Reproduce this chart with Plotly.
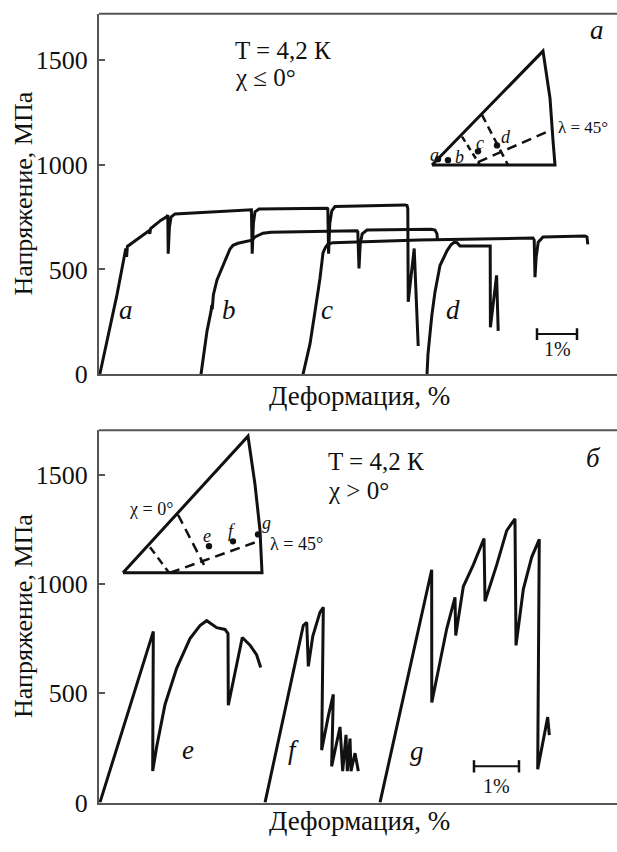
import plotly.graph_objects as go

# ---- stress–strain curves, panel "a" (chi <= 0), strain in %, stress in MPa ----
a_strain = [0.02, 0.25, 0.45, 0.575, 0.65, 0.67, 0.69, 0.71, 1.0, 1.25, 1.27, 1.29, 1.55, 1.7, 1.72,
            1.73, 1.76, 1.8, 1.9, 3.8, 3.81, 3.83, 3.86, 3.9, 4.0, 5.7, 5.72, 5.74, 5.77, 5.82, 5.9,
            7.65, 7.7, 7.72, 7.73, 7.88, 7.96, 7.98]
a_stress = [0, 200, 380, 505, 580, 600, 560, 610, 650, 685, 670, 695, 735, 752, 760,
            575, 700, 750, 765, 785, 785, 575, 720, 775, 788, 792, 790, 575, 720, 780, 800,
            808, 805, 790, 346, 600, 200, 135]

b_strain = [2.55, 2.7, 2.8, 2.82, 2.83, 2.86, 2.95, 3.1, 3.2, 3.275, 3.35, 3.475, 3.825, 3.9, 4.1, 4.3,
            5.72, 6.45, 6.47, 6.5, 6.53, 6.58, 6.7, 8.3, 8.4, 8.45, 8.46]
b_stress = [0, 206, 300, 330, 310, 380, 450, 520, 570, 598, 615, 625, 640, 655, 673, 678,
            682, 685, 680, 505, 620, 670, 688, 692, 688, 670, 645]

c_strain = [5.1, 5.275, 5.4, 5.525, 5.6, 5.66, 5.725, 5.85, 8.0, 10.0, 10.85, 10.88, 10.9, 10.93, 10.98,
            11.1, 12.15, 12.2, 12.22]
c_stress = [0, 145, 300, 458, 579, 605, 621, 628, 640, 647, 650, 640, 463, 560, 630,
            655, 660, 655, 620]

d_strain = [8.2, 8.225, 8.32, 8.4, 8.525, 8.7, 8.8, 8.88, 8.95, 9.025, 9.78, 9.785, 9.94, 9.98]
d_stress = [0, 98, 280, 393, 519, 589, 618, 630, 628, 612, 612, 224, 472, 207]

# ---- panel "б" (chi > 0) ----
e_strain = [0.02, 1.207, 1.193, 1.282, 1.467, 1.727, 2.022, 2.244, 2.393, 2.504, 2.616, 2.8,
            2.867, 2.873, 3.184, 3.356, 3.504, 3.593]
e_stress = [0, 783, 144, 256, 449, 615, 750, 810, 832, 818, 800, 792,
            773, 445, 755, 720, 675, 618]

f_strain = [3.689, 4.54, 4.616, 4.651, 4.75, 4.91, 4.985, 4.948, 5.1, 5.207, 5.17, 5.356, 5.415,
            5.489, 5.518, 5.578, 5.6, 5.689, 5.763]
f_stress = [0, 810, 825, 623, 760, 870, 893, 240, 400, 495, 166, 346, 144,
            310, 144, 293, 144, 226, 144]

g_strain = [6.244, 7.393, 7.395, 7.727, 7.911, 7.927, 8.096, 8.318, 8.556, 8.578, 8.838, 9.06,
            9.244, 9.267, 9.429, 9.616, 9.784, 9.749, 9.971, 10.007]
g_stress = [0, 1065, 458, 795, 939, 764, 988, 1087, 1208, 921, 1087, 1244,
            1298, 719, 975, 1123, 1204, 153, 391, 309]

# curve labels: (name, strain, stress)
top_labels = [("a", 0.675, 309), ("b", 3.25, 309), ("c", 5.7, 309), ("d", 8.85, 309)]
bot_labels = [("e", 1.98, 240), ("f", 4.32, 240), ("g", 7.06, 234)]

stress_ticks = [0, 500, 1000, 1500]

W, H = 617, 852
SERIF = "Liberation Serif, Times New Roman, serif"
INK = "#111111"
AXC = "#555555"

# panel frames in pixels: left, right, top, bottom
TOP = dict(l=99, r=617, t=14, b=381)
BOT = dict(l=99, r=617, t=438, b=817)
# pixels per 1 % strain and per 500 MPa
TOP_SX, TOP_SY = 40.0, 106.7
BOT_SX, BOT_SY = 45.0, 111.3

fig = go.Figure()


def curve(xs, ys, xa, ya):
    fig.add_trace(go.Scatter(x=xs, y=ys, mode="lines", xaxis=xa, yaxis=ya,
                             line=dict(color=INK, width=3), hoverinfo="skip",
                             showlegend=False))


for xs, ys in [(a_strain, a_stress), (b_strain, b_stress), (c_strain, c_stress), (d_strain, d_stress)]:
    curve(xs, ys, "x", "y")
for xs, ys in [(e_strain, e_stress), (f_strain, f_stress), (g_strain, g_stress)]:
    curve(xs, ys, "x2", "y2")

# 1 % scale bars
for xa, ya, x0, yb in [("x", "y", 10.95, 192), ("x2", "y2", 8.333, 166)]:
    fig.add_trace(go.Scatter(x=[x0, x0 + 1.0], y=[yb, yb], mode="lines", xaxis=xa, yaxis=ya,
                             line=dict(color=INK, width=2), hoverinfo="skip", showlegend=False))
    cap = 28
    for xc in (x0, x0 + 1.0):
        fig.add_trace(go.Scatter(x=[xc, xc], y=[yb - cap, yb + cap], mode="lines", xaxis=xa, yaxis=ya,
                                 line=dict(color=INK, width=2.5), hoverinfo="skip", showlegend=False))

annotations = []
shapes = []


def px2paper(px, py):
    return px / W, 1 - py / H


def text(px, py, s, size, italic=False, xanchor="left", angle=0):
    x, y = px2paper(px, py)
    if italic:
        s = "<i>" + s + "</i>"
    annotations.append(dict(x=x, y=y, xref="paper", yref="paper", text=s, showarrow=False,
                            xanchor=xanchor, yanchor="middle", textangle=angle, borderpad=0,
                            font=dict(family=SERIF, size=size, color=INK)))


def seg(pts, dash=None, width=3):
    path = "M " + " L ".join(f"{px / W:.5f},{1 - py / H:.5f}" for px, py in pts)
    shapes.append(dict(type="path", path=path, xref="paper", yref="paper",
                       line=dict(color=INK, width=width, dash=dash) if dash else dict(color=INK, width=width)))


def dot(px, py):
    r = 3.2
    shapes.append(dict(type="circle", xref="paper", yref="paper",
                       x0=(px - r) / W, x1=(px + r) / W, y0=1 - (py + r) / H, y1=1 - (py - r) / H,
                       fillcolor=INK, line=dict(color=INK, width=0)))


# curve letters
for name, sx, sy in top_labels:
    fig.add_annotation(x=sx, y=sy, xref="x", yref="y", text=f"<i>{name}</i>", showarrow=False,
                       font=dict(family=SERIF, size=27, color=INK))
for name, sx, sy in bot_labels:
    fig.add_annotation(x=sx, y=sy, xref="x2", yref="y2", text=f"<i>{name}</i>", showarrow=False,
                       font=dict(family=SERIF, size=27, color=INK))

# scale-bar captions
fig.add_annotation(x=11.45, y=122, xref="x", yref="y", text="1%", showarrow=False,
                   font=dict(family=SERIF, size=20, color=INK))
fig.add_annotation(x=8.83, y=78, xref="x2", yref="y2", text="1%", showarrow=False,
                   font=dict(family=SERIF, size=20, color=INK))

# panel texts
text(234, 51, "T = 4,2 К", 25)
text(234, 79, "χ ≤ 0°", 25)
text(327, 470, "T = 4,2 К", 25)
text(327, 499, "χ > 0°", 25)
text(597, 31, "а", 27, italic=True, xanchor="center")
text(593, 466, "б", 27, italic=True, xanchor="center")

# axis titles
text(24, 197, "Напряжение, МПа", 26, xanchor="center", angle=-90)
text(24, 627, "Напряжение, МПа", 26, xanchor="center", angle=-90)
text(360, 403, "Деформация, %", 27, xanchor="center")
text(360, 836, "Деформация, %", 27, xanchor="center")

# stereographic triangle, upper inset
seg([(432, 168), (555, 168), (553, 143), (550, 100), (543, 52), (432, 168)])
seg([(462, 139), (480, 168)], dash="6px,4px", width=2.5)
seg([(482, 117), (508, 168)], dash="8px,5px", width=2.5)
seg([(478, 165), (552, 132)], dash="10px,6px", width=2.5)
for p in [(438, 162), (448, 163), (478, 154), (497, 148)]:
    dot(*p)
for s, p in zip("abcd", [(434, 158), (459, 160), (480, 146), (506, 139)]):
    text(p[0], p[1], s, 18, italic=True, xanchor="center")
text(557, 130, "λ = 45°", 17)

# stereographic triangle, lower inset
seg([(123, 583), (262, 583), (260, 540), (255, 493), (248, 444), (123, 583)])
seg([(150, 557), (169, 583)], dash="8px,5px", width=2.5)
seg([(178, 524), (204, 575)], dash="10px,6px", width=2.5)
seg([(170, 583), (258, 551)], dash="10px,6px", width=2.5)
for p in [(209, 556), (233, 551), (258, 544)]:
    dot(*p)
for s, p in zip("efg", [(207, 546), (232, 541), (266, 532)]):
    text(p[0], p[1], s, 18, italic=True, xanchor="center")
text(151, 518, "χ = 0°", 18, xanchor="center")
text(269, 554, "λ = 45°", 18)

# top borders of both panels
for fr in (TOP, BOT):
    seg([(fr["l"], fr["t"]), (fr["r"], fr["t"])], width=2)
shapes[-1]["line"]["color"] = AXC
shapes[-2]["line"]["color"] = AXC


def xaxis_cfg(fr, sx, anchor):
    return dict(domain=[fr["l"] / W, fr["r"] / W], range=[0, (fr["r"] - fr["l"]) / sx],
                anchor=anchor, showline=True, linecolor=AXC, linewidth=2, showgrid=False,
                zeroline=False, showticklabels=False, ticks="", fixedrange=True)


def yaxis_cfg(fr, sy, anchor):
    return dict(domain=[1 - fr["b"] / H, 1 - fr["t"] / H], range=[0, (fr["b"] - fr["t"]) * 500 / sy],
                anchor=anchor, showline=True, linecolor=AXC, linewidth=2, showgrid=False,
                zeroline=False, tickvals=stress_ticks, ticktext=[str(v) for v in stress_ticks],
                ticks="inside", ticklen=6, tickwidth=2, tickcolor=AXC, ticklabelstandoff=4,
                tickfont=dict(family=SERIF, size=26, color=INK), fixedrange=True)


fig.update_layout(
    width=W, height=H, margin=dict(l=0, r=0, t=0, b=0),
    paper_bgcolor="white", plot_bgcolor="white", showlegend=False,
    xaxis=xaxis_cfg(TOP, TOP_SX, "y"), yaxis=yaxis_cfg(TOP, TOP_SY, "x"),
    xaxis2=xaxis_cfg(BOT, BOT_SX, "y2"), yaxis2=yaxis_cfg(BOT, BOT_SY, "x2"),
    annotations=list(fig.layout.annotations) + annotations, shapes=shapes,
)

fig.write_html("out.html")
